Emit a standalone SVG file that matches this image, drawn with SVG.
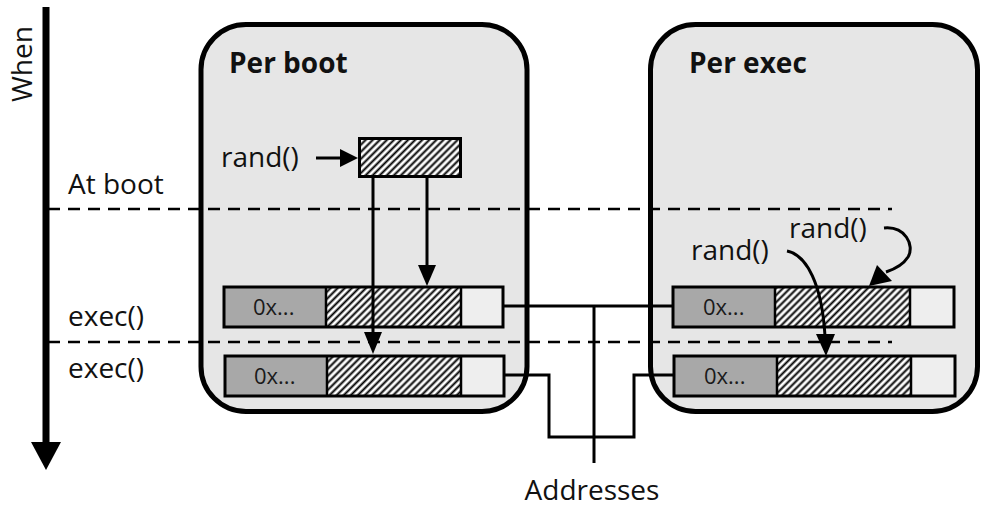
<svg xmlns="http://www.w3.org/2000/svg" width="989" height="508" viewBox="0 0 989 508">
<defs>
<pattern id="hatch" width="5" height="5" patternUnits="userSpaceOnUse" patternTransform="rotate(45)">
<rect width="5" height="5" fill="#ffffff"/>
<line x1="2.5" y1="0" x2="2.5" y2="5" stroke="#000" stroke-width="2"/>
</pattern>
</defs>
<style>
text{font-family:"Open Sans","Noto Sans","DejaVu Sans",sans-serif;fill:#111}
.lbl{font-size:28px}
.ttl{font-size:28px;font-weight:bold}
.hex{font-size:22px;fill:#1a1a1a}
.panel{fill:#e6e6e6;stroke:#000;stroke-width:5}
.dash{stroke:#000;stroke-width:2.5;stroke-dasharray:12 8;fill:none}
.wire{stroke:#000;stroke-width:3;fill:none}
.cell{stroke:#000;stroke-width:3}
.gray{fill:#a8a8a8}
.pale{fill:#eeeeee}
.hat{fill:url(#hatch)}
.sep{stroke:#000;stroke-width:2.5}
.ah{fill:#000}
</style>
<rect width="989" height="508" fill="#ffffff"/>

<g id="panel-per-boot">
<rect class="panel" x="201" y="24.5" width="326" height="387" rx="45"/>
<text class="ttl" x="229" y="73">Per boot</text>
</g>
<g id="panel-per-exec">
<rect class="panel" x="650.5" y="24.5" width="327" height="387" rx="45"/>
<text class="ttl" x="689" y="73">Per exec</text>
</g>

<g id="timeline">
<line x1="46" y1="7" x2="46" y2="444" stroke="#000" stroke-width="7"/>
<polygon class="ah" points="31,442 61,442 46,470"/>
<text class="lbl" transform="translate(32,102) rotate(-90)" x="0" y="0">When</text>
<text class="lbl" x="68" y="194">At boot</text>
<text class="lbl" x="68" y="326">exec()</text>
<text class="lbl" x="68" y="378">exec()</text>
</g>

<g id="dashed-lines">
<line class="dash" x1="48" y1="209" x2="892" y2="209"/>
<line class="dash" x1="48" y1="342" x2="892" y2="342"/>
</g>

<g id="boot-rand">
<rect class="hat cell" x="359.5" y="138.5" width="101" height="38"/>
<text class="lbl" x="221" y="167">rand()</text>
</g>

<g id="boot-row-1">
<rect class="pale" x="224" y="287" width="279" height="40"/>
<rect class="gray" x="224" y="287" width="102" height="40"/>
<rect class="hat" x="326" y="287" width="135" height="40"/>
<line class="sep" x1="326" y1="287" x2="326" y2="327"/>
<line class="sep" x1="461" y1="287" x2="461" y2="327"/>
<rect class="cell" x="224" y="287" width="279" height="40" fill="none"/>
<text class="hex" x="253" y="315">0x...</text>
</g>
<g id="boot-row-2">
<rect class="pale" x="225" y="356" width="279" height="40"/>
<rect class="gray" x="225" y="356" width="102" height="40"/>
<rect class="hat" x="327" y="356" width="134" height="40"/>
<line class="sep" x1="327" y1="356" x2="327" y2="396"/>
<line class="sep" x1="461" y1="356" x2="461" y2="396"/>
<rect class="cell" x="225" y="356" width="279" height="40" fill="none"/>
<text class="hex" x="254" y="384">0x...</text>
</g>

<g id="exec-row-1">
<rect class="pale" x="673" y="287" width="281" height="40"/>
<rect class="gray" x="673" y="287" width="102" height="40"/>
<rect class="hat" x="775" y="287" width="135" height="40"/>
<line class="sep" x1="775" y1="287" x2="775" y2="327"/>
<line class="sep" x1="910" y1="287" x2="910" y2="327"/>
<rect class="cell" x="673" y="287" width="281" height="40" fill="none"/>
<text class="hex" x="703" y="315">0x...</text>
</g>
<g id="exec-row-2">
<rect class="pale" x="674" y="356" width="281" height="40"/>
<rect class="gray" x="674" y="356" width="103" height="40"/>
<rect class="hat" x="777" y="356" width="134" height="40"/>
<line class="sep" x1="777" y1="356" x2="777" y2="396"/>
<line class="sep" x1="911" y1="356" x2="911" y2="396"/>
<rect class="cell" x="674" y="356" width="281" height="40" fill="none"/>
<text class="hex" x="704" y="384">0x...</text>
</g>

<g id="exec-rand-labels">
<text class="lbl" x="789" y="238">rand()</text>
<text class="lbl" x="691" y="260">rand()</text>
</g>

<g id="addresses">
<text class="lbl" x="592" y="500" text-anchor="middle">Addresses</text>
</g>

<g id="connectors">
<line class="wire" x1="316" y1="158" x2="342" y2="158"/>
<polygon class="ah" points="340,149 340,167 358,158"/>
<line class="wire" x1="373" y1="177" x2="373" y2="334"/>
<polygon class="ah" points="364,332 382,332 373,354"/>
<line class="wire" x1="427" y1="177" x2="427" y2="267"/>
<polygon class="ah" points="418,265 436,265 427,286"/>
<path class="wire" d="M884,228 C905,226 915,245 908,257 C903,265 895,269 886,272"/>
<polygon class="ah" points="877,265 892,281 869,286"/>
<path class="wire" d="M787,251 C807,255 822,285 825,336"/>
<polygon class="ah" points="816,334 835,334 826,356"/>
<path class="wire" d="M503,306 H673"/>
<path class="wire" d="M594,306 V463"/>
<path class="wire" d="M504,375 H549 V437 H634 V375 H674"/>
</g>
</svg>
